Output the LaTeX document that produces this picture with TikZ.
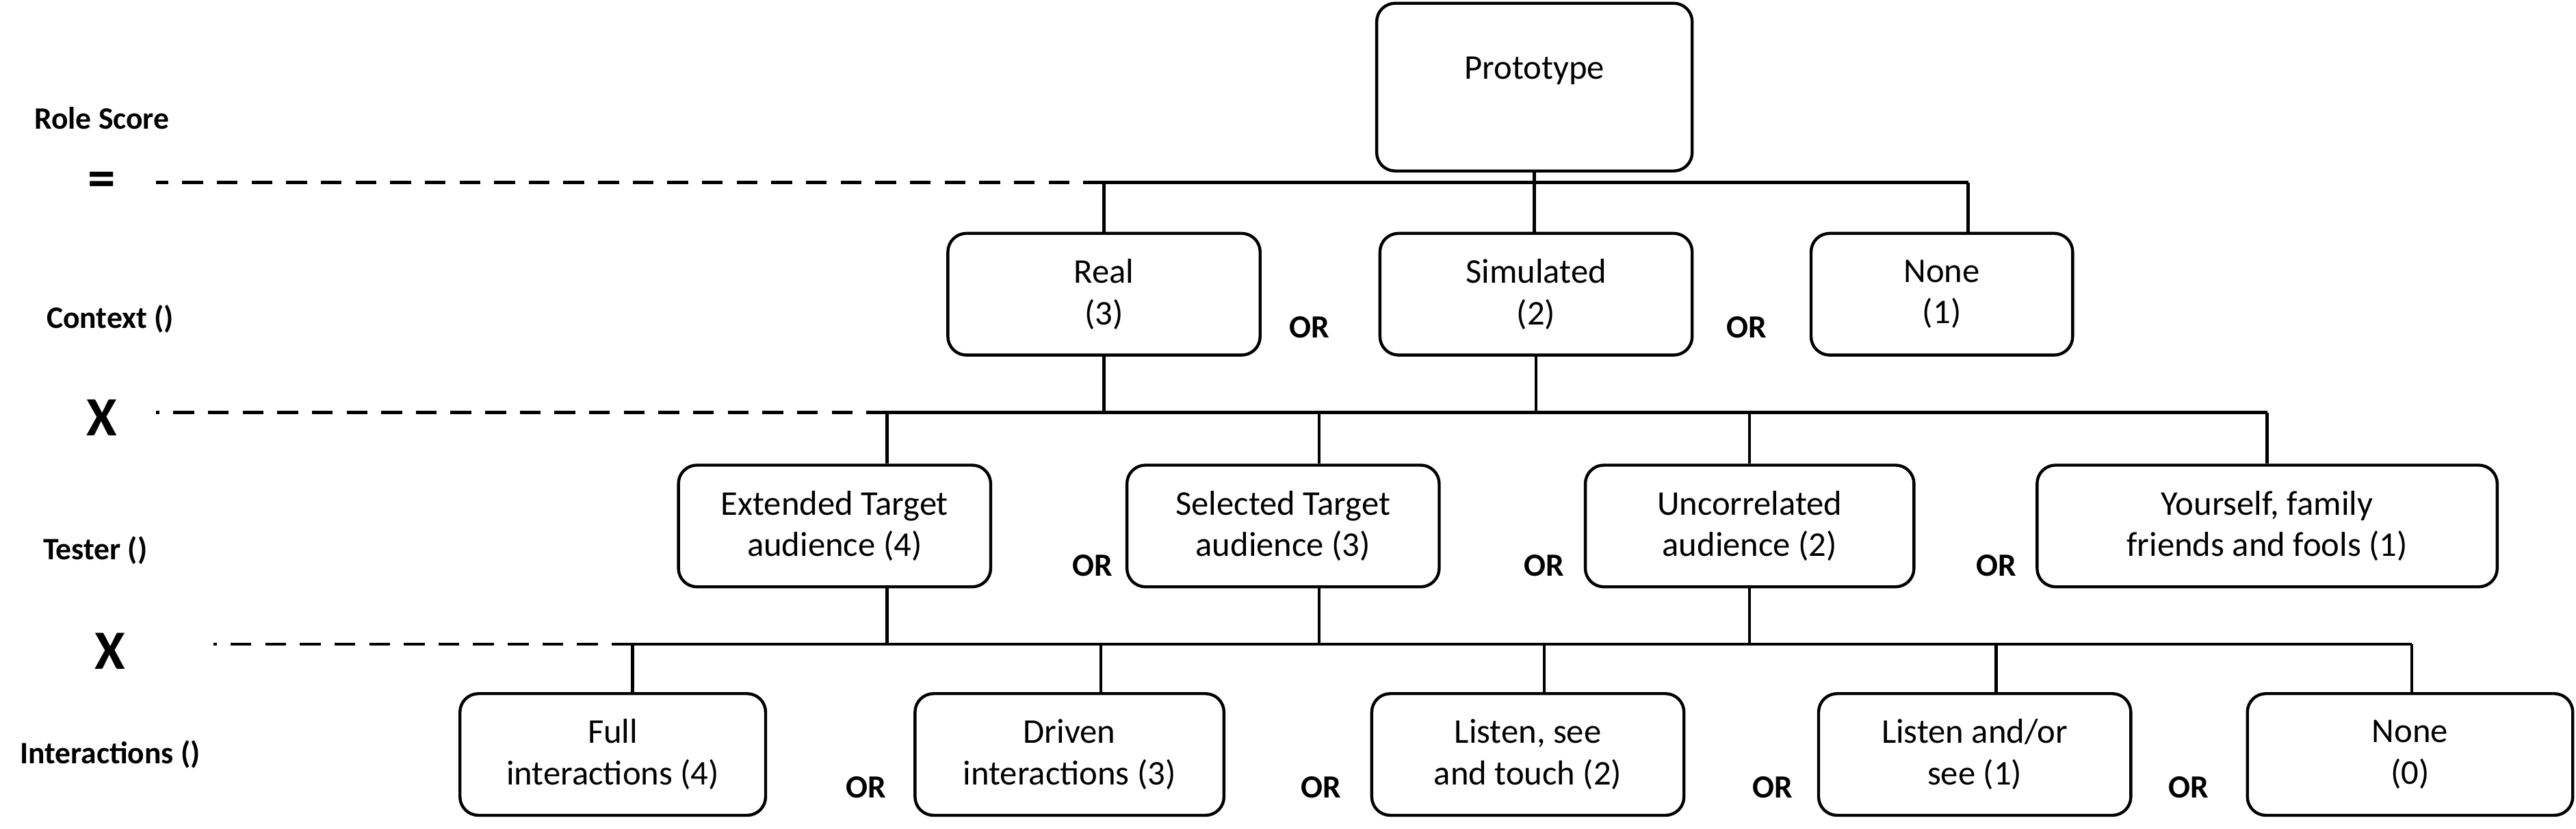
\documentclass[tikz,border=0pt]{standalone}
\usepackage{fontspec}
\setmainfont{Carlito}
\usetikzlibrary{positioning, calc}

\begin{document}
\begin{tikzpicture}[
    x=0.025cm, y=-0.025cm,
    line width=1.3pt,
    every node/.style={align=center, font=\fontsize{15}{18}\selectfont},
    box/.style={draw, rounded corners=8pt, minimum width=4.75cm, minimum height=1.85cm, inner sep=2pt},
    orlabel/.style={font=\fontsize{14}{16}\selectfont\bfseries},
    rowlabel/.style={font=\fontsize{13.5}{16}\selectfont\bfseries},
    oplabel/.style={font=\fontsize{24}{26}\selectfont\bfseries},
    guide/.style={dashed, dash pattern=on 9pt off 6pt}
]
\useasboundingbox (0,0) rectangle (1568,504);

% Nodes
\node[box, minimum width=4.8cm, minimum height=2.55cm] (proto) at (934,53) {};
\node (protolbl) at (934,43) {Prototype};

\node[box] (real) at (672,179) {Real\\(3)};
\node[box] (sim) at (935,179) {Simulated\\(2)};
\node[box, minimum width=3.98cm] (none1) at (1182,179) {None\\(1)};

\node[box] (ext) at (508,320) {Extended Target\\audience (4)};
\node[box] (sel) at (781,320) {Selected Target\\audience (3)};
\node[box, minimum width=5cm] (unc) at (1065,320) {Uncorrelated\\audience (2)};
\node[box, minimum width=7cm] (you) at (1380,320) {Yourself, family\\friends and fools (1)};

\node[box, minimum width=4.65cm] (full) at (373,459) {Full\\interactions (4)};
\node[box, minimum width=4.7cm] (drv) at (651,459) {Driven\\interactions (3)};
\node[box] (lst) at (930,459) {Listen, see\\and touch (2)};
\node[box] (lao) at (1202,459) {Listen and/or\\see (1)};
\node[box, minimum width=4.95cm] (none0) at (1467,459) {None\\(0)};

% OR labels
\node[orlabel] (or1) at (797,199) {OR};
\node[orlabel] (or2) at (1063,199) {OR};
\node[orlabel] (or3) at (665,344) {OR};
\node[orlabel] (or4) at (940,344) {OR};
\node[orlabel] (or5) at (1215,344) {OR};
\node[orlabel] (or6) at (527,479) {OR};
\node[orlabel] (or7) at (804,479) {OR};
\node[orlabel] (or8) at (1079,479) {OR};
\node[orlabel] (or9) at (1332,479) {OR};

% Row labels
\node[rowlabel] (lrole) at (62,72) {Role Score};
\node[oplabel] (leq) at (62,112) {=};
\node[rowlabel] (lctx) at (67,194) {Context ()};
\node[oplabel] (lx1) at (62,254) {X};
\node[rowlabel] (ltst) at (58,335) {Tester ()};
\node[oplabel] (lx2) at (67,396) {X};
\node[rowlabel] (lint) at (67,459) {Interactions ()};

% Buses
\coordinate (b1l) at (672,111); \coordinate (b1r) at (1198,111);
\coordinate (b2l) at (540,251); \coordinate (b2r) at (1380,251);
\coordinate (b3l) at (385,392); \coordinate (b3r) at (1468,392);

\draw (proto.south) -- (proto.south |- b1l);
\draw (b1l) -- (b1r);
\draw (b1l) -- (real.north -| b1l);
\draw (proto.south |- b1l) -- (sim.north -| proto.south);
\draw (b1r) -- (none1.north -| b1r);
\draw[guide] (b1l) -- (95,111);

\draw (real) -- (real |- b2l);
\draw (sim) -- (sim |- b2l);
\draw (b2l) -- (b2r);
\draw (b2l) -- (ext.north -| b2l);
\draw (803,251) -- (sel.north -| 803,0);
\draw (unc.north) -- (unc.north |- b2l);
\draw (b2r) -- (you.north);
\draw[guide] (b2l) -- (95,251);

\draw (ext.south -| b2l) -- (b2l |- b3l);
\draw (sel.south -| 803,0) -- (803,392);
\draw (unc.south) -- (unc.south |- b3l);
\draw (b3l) -- (b3r);
\draw (b3l) -- (full.north -| b3l);
\draw (670,392) -- (drv.north -| 670,0);
\draw (940,392) -- (lst.north -| 940,0);
\draw (1215,392) -- (lao.north -| 1215,0);
\draw (b3r) -- (none0.north -| b3r);
\draw[guide] (b3l) -- (130,392);

\end{tikzpicture}
\end{document}
